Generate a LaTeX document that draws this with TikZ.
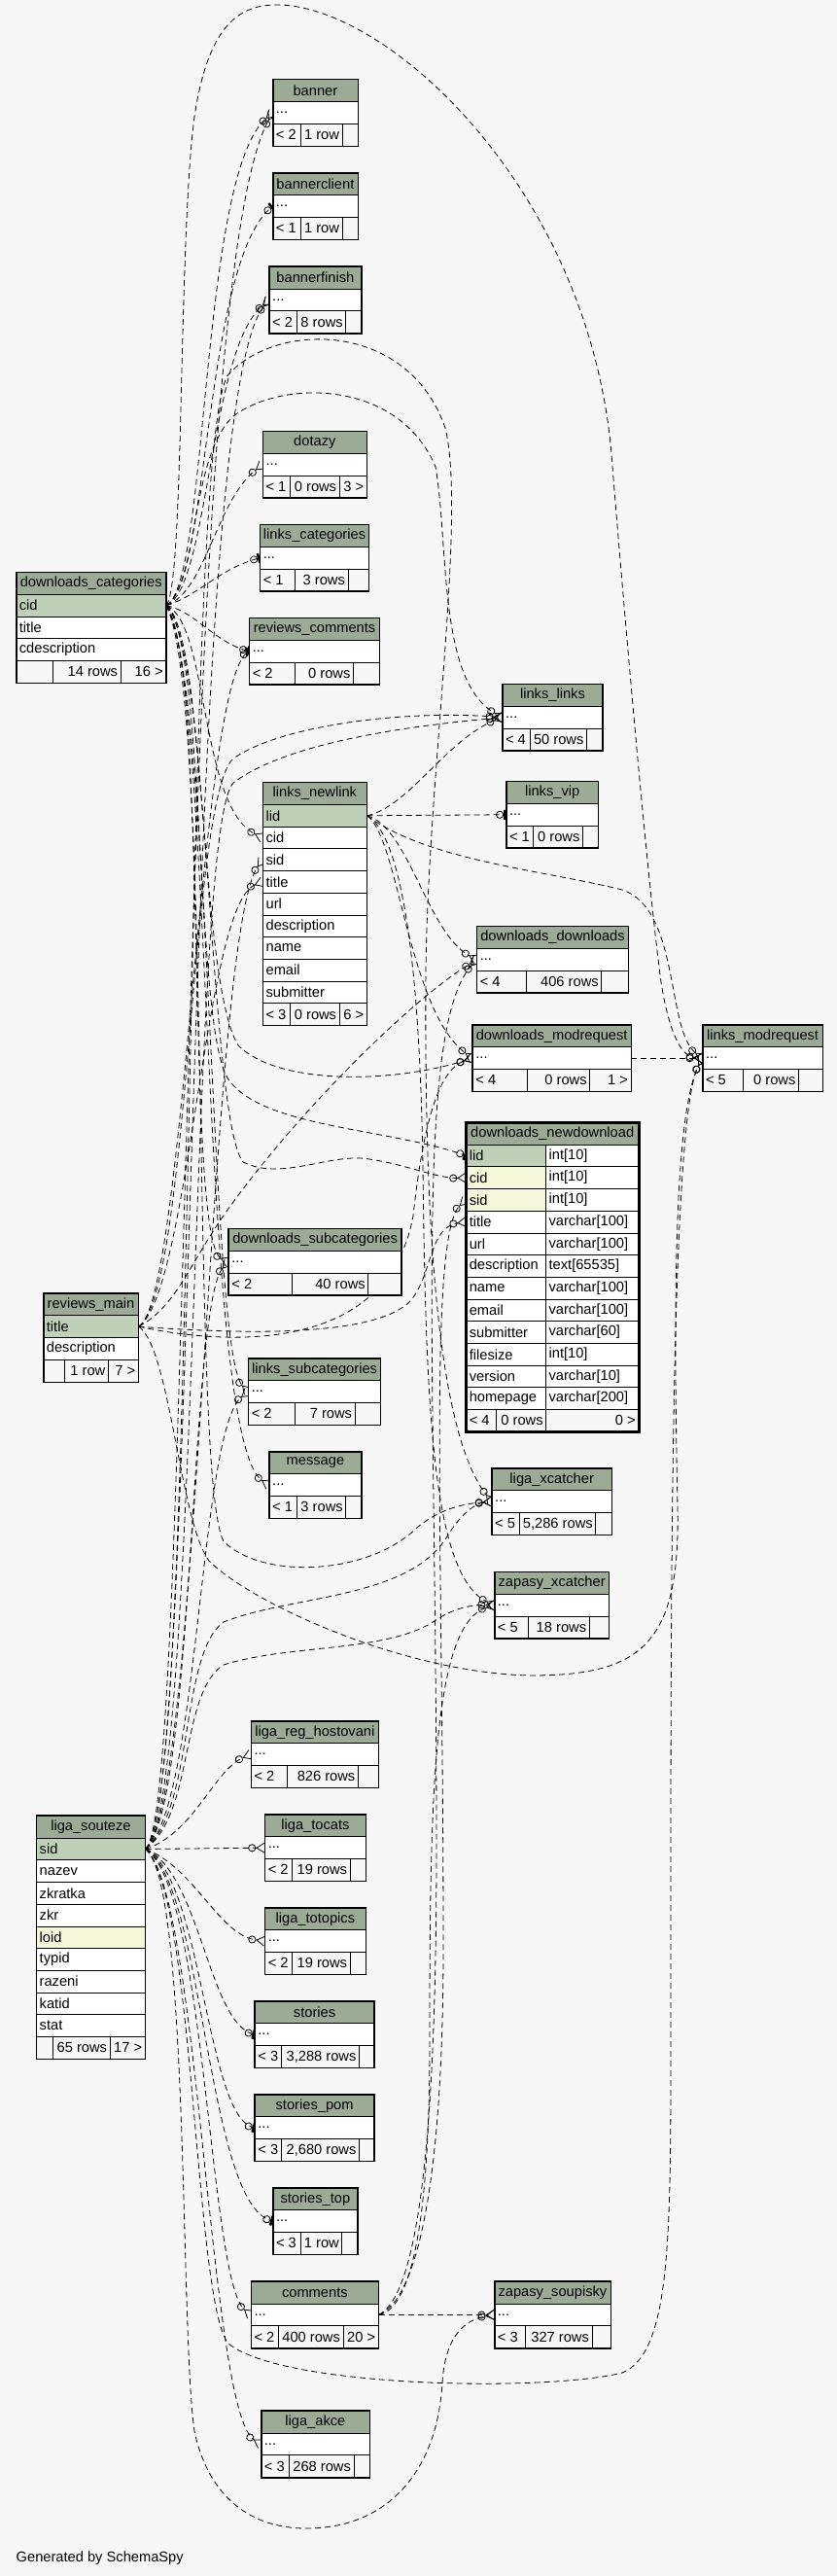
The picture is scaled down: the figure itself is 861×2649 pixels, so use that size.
\documentclass[tikz,border=0pt]{standalone}
\usepackage{fontspec}
\setmainfont{Liberation Sans}
\usetikzlibrary{
  arrows.meta,
  backgrounds
}
\definecolor{sspybg}{HTML}{F7F7F7}
\definecolor{sspyhead}{HTML}{9BAB96}
\definecolor{sspykey}{HTML}{BED1B8}
\definecolor{sspyidx}{HTML}{F4F7DA}
\newcommand{\tabfont}{\fontsize{14.67pt}{17pt}\selectfont}
% table header: name, x, y, width, title
\newcommand{\dbhead}[5]{%
  \xdef\tabname{#1}\xdef\tabx{#2}\xdef\tabw{#4}%
  \pgfmathsetmacro\tabtw{#4-6}\xdef\tabtw{\tabtw}%
  \node[headcell, text width=\tabtw pt] (#1) at (#2,#3) {#5};%
  \pgfmathsetmacro\taby{#3+22.7}\xdef\taby{\taby}%
}
% one-column row: name, fill, text
\newcommand{\dbrow}[3]{%
  \node[rowcell, fill=#2, text width=\tabtw pt] (#1) at (\tabx,\taby) {#3};%
  \pgfmathsetmacro\taby{\taby+22.7}\xdef\taby{\taby}%
}
% two-column row: name, fill, column, type
\newcommand{\dbrowtwo}[4]{%
  \node[rowcell, fill=#2, text width=75.8pt] (#1) at (\tabx,\taby) {#3};%
  \pgfmathsetmacro\dbtx{\tabx+81.8}\pgfmathsetmacro\dbtw{\tabw-87.8}%
  \node[rowcell, fill=white, text width=\dbtw pt] (#1-type) at (\dbtx,\taby) {#4};%
  \pgfmathsetmacro\taby{\taby+22.7}\xdef\taby{\taby}%
}
% footer: divider 1, divider 2, parents, rows, children
\newcommand{\dbfoot}[5]{%
  \pgfmathsetmacro\dbwa{#1-6}\pgfmathsetmacro\dbwb{#2-#1-6}\pgfmathsetmacro\dbwc{\tabw-#2-6}%
  \pgfmathsetmacro\dbxb{\tabx+#1}\pgfmathsetmacro\dbxc{\tabx+#2}%
  \node[footcell, align=flush left, text width=\dbwa pt] (\tabname-fa) at (\tabx,\taby) {#3};%
  \node[footcell, align=flush right, text width=\dbwb pt] (\tabname-fb) at (\dbxb,\taby) {#4};%
  \node[footcell, align=flush right, text width=\dbwc pt] (\tabname-fc) at (\dbxc,\taby) {#5};%
  \draw[tabframe] (\tabname.north west) rectangle (\tabname-fc.south east);%
}

\begin{document}
\begin{tikzpicture}[x=1pt, y=-1pt,
    headcell/.style={
      draw=black, line width=0.8pt, fill=sspyhead, anchor=north west,
      inner xsep=3pt, inner ysep=0pt, minimum height=22.7pt,
      font=\tabfont, align=flush center
    },
    rowcell/.style={
      draw=black, line width=0.8pt, anchor=north west,
      inner xsep=3pt, inner ysep=0pt, minimum height=22.7pt,
      font=\tabfont, align=flush left
    },
    footcell/.style={rowcell, fill=sspybg},
    tabframe/.style={draw=black, line width=1.2pt},
    fk/.style={draw=black, line width=0.8pt, dash pattern=on 6pt off 4pt},
    crowtip/.style={-{Circle[open,length=8pt,width=8pt,line width=0.8pt]Straight Barb[reversed,length=8pt,width=10pt,line width=0.8pt]}},
    teetip/.style={-{Circle[open,length=8pt,width=8pt,line width=0.8pt]Bar[width=10pt,line width=2.5pt]}}
  ]
  \useasboundingbox (0,0) rectangle (861,2649);

  % Tables
  \dbhead{banner}{280.5}{81.5}{87}{banner}
  \dbrow{banner-r}{white}{...}
  \dbfoot{28}{71}{< 2}{1 row}{}

  \dbhead{bclient}{280.5}{177.7}{87}{bannerclient}
  \dbrow{bclient-r}{white}{...}
  \dbfoot{28}{71}{< 1}{1 row}{}

  \dbhead{bfinish}{276.8}{274}{94.4}{bannerfinish}
  \dbrow{bfinish-r}{white}{...}
  \dbfoot{28}{78.5}{< 2}{8 rows}{}

  \dbhead{dotazy}{270.2}{443.3}{106.5}{dotazy}
  \dbrow{dotazy-r}{white}{...}
  \dbfoot{27.4}{78.5}{< 1}{0 rows}{3 >}

  \dbhead{lcat}{267.4}{539.3}{111.5}{links\_categories}
  \dbrow{lcat-r}{white}{...}
  \dbfoot{35.7}{90.1}{< 1}{3 rows}{}

  \dbhead{rcom}{256.4}{635.3}{133.5}{reviews\_comments}
  \dbrow{rcom-r}{white}{...}
  \dbfoot{46.7}{106.6}{< 2}{0 rows}{}

  \dbhead{dcat}{16.5}{588.3}{153.7}{downloads\_categories}
  \dbrow{dcat-cid}{sspykey}{cid}
  \dbrow{dcat-title}{white}{title}
  \dbrow{dcat-cdesc}{white}{cdescription}
  \dbfoot{37.3}{107.1}{}{14 rows}{16 >}

  \dbhead{llinks}{516.7}{703.3}{102.7}{links\_links}
  \dbrow{llinks-r}{white}{...}
  \dbfoot{28}{86.3}{< 4}{50 rows}{}

  \dbhead{lvip}{520.6}{803.3}{94.4}{links\_vip}
  \dbrow{lvip-r}{white}{...}
  \dbfoot{27.4}{78.4}{< 1}{0 rows}{}

  \dbhead{nlk}{270.2}{804.3}{106.5}{links\_newlink}
  \dbrow{nlk-lid}{sspykey}{lid}
  \dbrow{nlk-cid}{white}{cid}
  \dbrow{nlk-sid}{white}{sid}
  \dbrow{nlk-title}{white}{title}
  \dbrow{nlk-url}{white}{url}
  \dbrow{nlk-desc}{white}{description}
  \dbrow{nlk-name}{white}{name}
  \dbrow{nlk-email}{white}{email}
  \dbrow{nlk-subm}{white}{submitter}
  \dbfoot{27.4}{78.5}{< 3}{0 rows}{6 >}

  \dbhead{ddown}{490.4}{952.3}{155.4}{downloads\_downloads}
  \dbrow{ddown-r}{white}{...}
  \dbfoot{50.5}{127.9}{< 4}{406 rows}{}

  \dbhead{dmodreq}{486}{1053.7}{162.5}{downloads\_modrequest}
  \dbrow{dmodreq-r}{white}{...}
  \dbfoot{56}{120.2}{< 4}{0 rows}{1 >}

  \dbhead{lmodreq}{722.7}{1053.7}{123}{links\_modrequest}
  \dbrow{lmodreq-r}{white}{...}
  \dbfoot{41.2}{98.3}{< 5}{0 rows}{}

  \dbhead{nd}{479.4}{1154}{176.8}{downloads\_newdownload}
  \dbrowtwo{nd-lid}{sspykey}{lid}{int[10]}
  \dbrowtwo{nd-cid}{sspyidx}{cid}{int[10]}
  \dbrowtwo{nd-sid}{sspyidx}{sid}{int[10]}
  \dbrowtwo{nd-title}{white}{title}{varchar[100]}
  \dbrowtwo{nd-url}{white}{url}{varchar[100]}
  \dbrowtwo{nd-desc}{white}{description}{text[65535]}
  \dbrowtwo{nd-name}{white}{name}{varchar[100]}
  \dbrowtwo{nd-email}{white}{email}{varchar[100]}
  \dbrowtwo{nd-subm}{white}{submitter}{varchar[60]}
  \dbrowtwo{nd-size}{white}{filesize}{int[10]}
  \dbrowtwo{nd-vers}{white}{version}{varchar[10]}
  \dbrowtwo{nd-home}{white}{homepage}{varchar[200]}
  \dbfoot{30.8}{81.8}{< 4}{0 rows}{0 >}
  \draw[line width=3pt] (nd.north west) rectangle (nd-fc.south east);

  \dbhead{dsub}{235}{1263.3}{177.4}{downloads\_subcategories}
  \dbrow{dsub-r}{white}{...}
  \dbfoot{65.4}{143.3}{< 2}{40 rows}{}

  \dbhead{rvm}{44.5}{1329.7}{97.2}{reviews\_main}
  \dbrow{rvm-title}{sspykey}{title}
  \dbrow{rvm-desc}{white}{description}
  \dbfoot{21.4}{66.4}{}{1 row}{7 >}

  \dbhead{lsub}{255.4}{1396.7}{135.6}{links\_subcategories}
  \dbrow{lsub-r}{white}{...}
  \dbfoot{47.7}{109.2}{< 2}{7 rows}{}

  \dbhead{message}{276.8}{1492.7}{94.4}{message}
  \dbrow{message-r}{white}{...}
  \dbfoot{28}{78.5}{< 1}{3 rows}{}

  \dbhead{lxc}{505.8}{1509.7}{123}{liga\_xcatcher}
  \dbrow{lxc-r}{white}{...}
  \dbfoot{28}{106.5}{< 5}{5,286 rows}{}

  \dbhead{zxc}{508.5}{1616.3}{117.5}{zapasy\_xcatcher}
  \dbrow{zxc-r}{white}{...}
  \dbfoot{34.1}{97.2}{< 5}{18 rows}{}

  \dbhead{lreg}{258.1}{1769.7}{130.7}{liga\_reg\_hostovani}
  \dbrow{lreg-r}{white}{...}
  \dbfoot{36.8}{109.8}{< 2}{826 rows}{}

  \dbhead{lsz}{37.3}{1867}{111.5}{liga\_souteze}
  \dbrow{lsz-sid}{sspykey}{sid}
  \dbrow{lsz-nazev}{white}{nazev}
  \dbrow{lsz-zkratka}{white}{zkratka}
  \dbrow{lsz-zkr}{white}{zkr}
  \dbrow{lsz-loid}{sspyidx}{loid}
  \dbrow{lsz-typid}{white}{typid}
  \dbrow{lsz-razeni}{white}{razeni}
  \dbrow{lsz-katid}{white}{katid}
  \dbrow{lsz-stat}{white}{stat}
  \dbfoot{16.5}{75.3}{}{65 rows}{17 >}

  \dbhead{ltoc}{272.4}{1865.7}{103.2}{liga\_tocats}
  \dbrow{ltoc-r}{white}{...}
  \dbfoot{28}{87.3}{< 2}{19 rows}{}

  \dbhead{ltot}{272.4}{1961.7}{103.2}{liga\_totopics}
  \dbrow{ltot-r}{white}{...}
  \dbfoot{28}{87.3}{< 2}{19 rows}{}

  \dbhead{stories}{262}{2057.7}{122.4}{stories}
  \dbrow{stories-r}{white}{...}
  \dbfoot{27.4}{107}{< 3}{3,288 rows}{}

  \dbhead{spom}{262}{2153.7}{122.4}{stories\_pom}
  \dbrow{spom-r}{white}{...}
  \dbfoot{27.4}{107}{< 3}{2,680 rows}{}

  \dbhead{stop}{280.6}{2249.5}{86.8}{stories\_top}
  \dbrow{stop-r}{white}{...}
  \dbfoot{28}{70.8}{< 3}{1 row}{}

  \dbhead{comments}{258.1}{2346}{130.7}{comments}
  \dbrow{comments-r}{white}{...}
  \dbfoot{28}{94.4}{< 2}{400 rows}{20 >}

  \dbhead{zsoup}{508.5}{2346}{119.1}{zapasy\_soupisky}
  \dbrow{zsoup-r}{white}{...}
  \dbfoot{31.9}{100}{< 3}{327 rows}{}

  \dbhead{lakce}{268.5}{2479}{111}{liga\_akce}
  \dbrow{lakce-r}{white}{...}
  \dbfoot{28}{95}{< 3}{268 rows}{}

  \node[anchor=west, inner sep=0pt, font=\tabfont] (credit) at (16.5,2631) {Generated by SchemaSpy};

  \begin{scope}[on background layer]
    \fill[sspybg] (0,0) rectangle (861,2649);

    % downloads_categories.cid
    \draw[fk,crowtip] (dcat-cid.east) .. controls (215,600) and (205,180) .. (banner-r.west);
    \draw[fk,teetip] (dcat-cid.east) .. controls (215,600) and (210,270) .. (bclient-r.west);
    \draw[fk,crowtip] (dcat-cid.east) .. controls (215,605) and (215,360) .. (bfinish-r.west);
    \draw[fk,crowtip] (dcat-cid.east) .. controls (212,608) and (222,515) .. (dotazy-r.west);
    \draw[fk,teetip] (dcat-cid.east) .. controls (205,612) and (225,585) .. (lcat-r.west);
    \draw[fk,teetip] (dcat-cid.east) .. controls (200,628) and (220,660) .. (rcom-r.west);
    \draw[fk,crowtip] (dcat-cid.east) .. controls (215,640) and (205,830) .. (nlk-cid.west);
    \draw[fk,crowtip] (dcat-cid.east) .. controls (205,600) and (195,470) .. (240,428) .. controls (290,390) and (410,390) .. (448,480) .. controls (462,560) and (450,700) .. (llinks-r.west);
    \draw[fk,crowtip] (dcat-cid.east) .. controls (212,650) and (205,1010) .. (245,1075) .. controls (285,1115) and (400,1115) .. (dmodreq-r.west);
    \draw[fk,crowtip] (dcat-cid.east) .. controls (215,660) and (215,1150) .. (250,1195) .. controls (290,1215) and (340,1185) .. (380,1192) .. controls (420,1198) and (450,1212) .. (nd-cid.west);
    \draw[fk,teetip] (dcat-cid.east) .. controls (212,660) and (200,1060) .. (235,1110) .. controls (270,1160) and (400,1160) .. (nd-lid.west);
    \draw[fk,crowtip] (dcat-cid.east) .. controls (215,680) and (190,1275) .. (dsub-r.west);
    \draw[fk,crowtip] (dcat-cid.east) .. controls (218,700) and (215,1390) .. (lsub-r.west);
    \draw[fk,crowtip] (dcat-cid.east) .. controls (220,700) and (205,1480) .. (message-r.west);
    \draw[fk,crowtip] (dcat-cid.east) .. controls (190,600) and (183,250) .. (200,120) .. controls (215,20) and (250,5) .. (285,5) .. controls (400,5) and (612,200) .. (630,480) .. controls (648,700) and (668,920) .. (680,1010) .. controls (688,1060) and (700,1086) .. (lmodreq-r.west);
    \draw[fk,crowtip] (dcat-cid.east) .. controls (220,720) and (195,1520) .. (230,1585) .. controls (270,1625) and (380,1620) .. (430,1570) .. controls (455,1550) and (480,1546) .. (lxc-r.west);

    % links_newlink.lid
    \draw[fk,teetip] (nlk-lid.east) -- (lvip-r.west);
    \draw[fk,crowtip] (nlk-lid.east) .. controls (420,830) and (460,760) .. (llinks-r.west);
    \draw[fk,crowtip] (nlk-lid.east) .. controls (420,850) and (440,960) .. (ddown-r.west);
    \draw[fk,crowtip] (nlk-lid.east) .. controls (440,885) and (560,895) .. (640,915) .. controls (700,935) and (685,1060) .. (lmodreq-r.west);
    \draw[fk,crowtip] (nlk-lid.east) .. controls (410,860) and (420,1040) .. (dmodreq-r.west);
    \draw[fk,crowtip] (nlk-lid.east) .. controls (415,860) and (432,1000) .. (435,1200) .. controls (438,1450) and (445,1620) .. (zxc-r.west);

    % reviews_main.title
    \draw[fk,teetip] (rvm-title.east) .. controls (190,1340) and (205,700) .. (rcom-r.west);
    \draw[fk,crowtip] (rvm-title.east) .. controls (195,1330) and (210,930) .. (nlk-title.west);
    \draw[fk,crowtip] (rvm-title.east) .. controls (195,1330) and (195,820) .. (240,780) .. controls (290,745) and (420,730) .. (llinks-r.west);
    \draw[fk,crowtip] (rvm-title.east) .. controls (180,1345) and (195,1300) .. (230,1250) .. controls (300,1150) and (420,1030) .. (ddown-r.west);
    \draw[fk,crowtip] (rvm-title.east) .. controls (250,1372) and (380,1375) .. (420,1340) .. controls (445,1315) and (440,1262) .. (nd-title.west);
    \draw[fk,crowtip] (rvm-title.east) .. controls (175,1385) and (185,1565) .. (215,1605) .. controls (260,1650) and (420,1722) .. (550,1723) .. controls (660,1722) and (700,1690) .. (697,1550) .. controls (694,1400) and (690,1150) .. (lmodreq-r.west);
    \draw[fk,crowtip] (rvm-title.east) .. controls (240,1385) and (400,1390) .. (425,1250) .. controls (435,1160) and (450,1100) .. (dmodreq-r.west);

    % liga_souteze.sid
    \draw[fk,crowtip] (lsz-sid.east) -- (ltoc-r.west);
    \draw[fk,crowtip] (lsz-sid.east) .. controls (200,1920) and (225,1990) .. (ltot-r.west);
    \draw[fk,teetip] (lsz-sid.east) .. controls (205,1925) and (215,2080) .. (stories-r.west);
    \draw[fk,teetip] (lsz-sid.east) .. controls (208,1930) and (212,2175) .. (spom-r.west);
    \draw[fk,teetip] (lsz-sid.east) .. controls (210,1935) and (212,2265) .. (stop-r.west);
    \draw[fk,crowtip] (lsz-sid.east) .. controls (212,1940) and (215,2345) .. (comments-r.west);
    \draw[fk,crowtip] (lsz-sid.east) .. controls (205,1945) and (215,2480) .. (lakce-r.west);
    \draw[fk,crowtip] (lsz-sid.east) .. controls (200,1885) and (220,1820) .. (lreg-r.west);
    \draw[fk,crowtip] (lsz-sid.east) .. controls (205,1860) and (215,960) .. (nlk-sid.west);
    \draw[fk,crowtip] (lsz-sid.east) .. controls (200,1860) and (178,300) .. (banner-r.west);
    \draw[fk,crowtip] (lsz-sid.east) .. controls (205,1860) and (185,420) .. (bfinish-r.west);
    \draw[fk,crowtip] (lsz-sid.east) .. controls (200,1860) and (195,1340) .. (dsub-r.west);
    \draw[fk,crowtip] (lsz-sid.east) .. controls (205,1860) and (205,1470) .. (lsub-r.west);
    \draw[fk,crowtip] (lsz-sid.east) .. controls (195,1935) and (185,2400) .. (200,2500) .. controls (215,2570) and (260,2600) .. (315,2600) .. controls (400,2600) and (450,2540) .. (455,2450) .. controls (458,2400) and (480,2385) .. (zsoup-r.west);
    \draw[fk,crowtip] (lsz-sid.east) .. controls (200,1945) and (200,2370) .. (235,2410) .. controls (290,2455) and (560,2460) .. (640,2440) .. controls (690,2420) and (690,2300) .. (690,2100) .. controls (690,1700) and (688,1150) .. (lmodreq-r.west);
    \draw[fk,crowtip] (lsz-sid.east) .. controls (200,1860) and (185,1700) .. (230,1668) .. controls (300,1640) and (420,1645) .. (460,1580) .. controls (475,1555) and (490,1546) .. (lxc-r.west);
    \draw[fk,crowtip] (lsz-sid.east) .. controls (200,1865) and (185,1740) .. (230,1712) .. controls (300,1690) and (400,1700) .. (450,1665) .. controls (470,1652) and (490,1650) .. (zxc-r.west);
    \draw[fk,crowtip] (lsz-sid.east) .. controls (205,1860) and (195,850) .. (240,805) .. controls (300,760) and (440,745) .. (llinks-r.west);
    \draw[fk,crowtip] (lsz-sid.east) .. controls (205,1860) and (185,450) .. (235,385) .. controls (285,330) and (420,330) .. (458,440) .. controls (480,530) and (440,800) .. (438,1000) .. controls (436,1300) and (455,1480) .. (lxc-r.west);

    % comments
    \draw[fk,crowtip] (comments-r.east) -- (zsoup-r.west);
    \draw[fk,crowtip] (comments-r.east) .. controls (420,2375) and (442,2300) .. (442,2100) .. controls (442,1850) and (445,1670) .. (zxc-r.west);
    \draw[fk,crowtip] (comments-r.east) .. controls (428,2365) and (456,2250) .. (456,2000) .. controls (456,1600) and (440,1270) .. (nd-sid.west);
    \draw[fk,crowtip] (comments-r.east) .. controls (430,2360) and (449,2200) .. (449,1900) .. controls (449,1400) and (425,1060) .. (ddown-r.west);

    % downloads_modrequest
    \draw[fk,crowtip] (dmodreq-r.east) -- (lmodreq-r.west);
  \end{scope}
\end{tikzpicture}
\end{document}
